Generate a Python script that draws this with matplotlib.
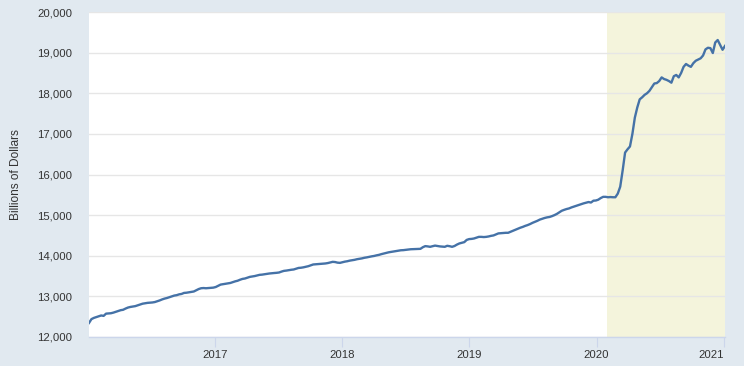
import matplotlib
matplotlib.use('Agg')
import matplotlib.pyplot as plt
import pandas as pd

# weekly series, starting 2016-01-04
start_date = '2016-01-04'
m2_2016 = [12345, 12440, 12470, 12490, 12510, 12530, 12520, 12575, 12580, 12585, 12600, 12620, 12640,
           12660, 12670, 12700, 12725, 12740, 12750, 12760, 12780, 12800, 12820, 12830, 12840, 12845,
           12850, 12860, 12880, 12900, 12925, 12945, 12960, 12980, 13000, 13020, 13030, 13050, 13060,
           13085, 13090, 13100, 13110, 13120, 13150, 13180, 13200, 13205, 13200, 13205, 13210, 13215]
m2_2017 = [13230, 13260, 13290, 13300, 13310, 13320, 13330, 13350, 13370, 13385, 13410, 13430, 13440,
           13460, 13480, 13490, 13500, 13515, 13530, 13535, 13545, 13555, 13563, 13570, 13575, 13580,
           13588, 13610, 13628, 13635, 13645, 13655, 13662, 13680, 13700, 13705, 13715, 13730, 13743,
           13765, 13785, 13790, 13795, 13800, 13805, 13810, 13820, 13835, 13850, 13845, 13830, 13825]
m2_2018 = [13840, 13855, 13865, 13880, 13890, 13900, 13915, 13925, 13935, 13950, 13960, 13973, 13985,
           13995, 14010, 14022, 14040, 14055, 14070, 14085, 14096, 14105, 14115, 14125, 14135, 14138,
           14145, 14150, 14160, 14163, 14165, 14168, 14170, 14210, 14237, 14230, 14220, 14235, 14250,
           14240, 14230, 14225, 14220, 14245, 14235, 14220, 14240, 14275, 14303, 14320, 14335, 14390]
m2_2019 = [14410, 14415, 14425, 14445, 14465, 14465, 14460, 14465, 14475, 14490, 14500, 14525, 14550,
           14555, 14560, 14565, 14565, 14590, 14615, 14640, 14665, 14690, 14710, 14735, 14755, 14780,
           14810, 14835, 14860, 14890, 14910, 14930, 14945, 14955, 14975, 15000, 15030, 15070, 15107,
           15130, 15150, 15165, 15190, 15210, 15230, 15250, 15272, 15290, 15305, 15322, 15310, 15355]
m2_2020 = [15360, 15380, 15420, 15450, 15450, 15440, 15445, 15440, 15440, 15530, 15700, 16100, 16540,
           16620, 16690, 17000, 17400, 17650, 17850, 17900, 17960, 18000, 18060, 18150, 18240, 18250,
           18300, 18390, 18350, 18330, 18300, 18260, 18420, 18450, 18390, 18500, 18650, 18720, 18680,
           18650, 18740, 18800, 18830, 18860, 18930, 19080, 19120, 19110, 18990, 19250, 19310, 19190,
           19070, 19165]

recession_start = '2020-02-01'
y_ticks = [12000, 13000, 14000, 15000, 16000, 17000, 18000, 19000, 20000]
x_ticks = ['2017-01-01', '2018-01-01', '2019-01-01', '2020-01-01', '2021-01-01']
x_labels = ['2017', '2018', '2019', '2020', '2021']

values = m2_2016 + m2_2017 + m2_2018 + m2_2019 + m2_2020
dates = pd.date_range(start_date, periods=len(values), freq='7D')

plt.rcParams['font.family'] = ['Liberation Sans', 'DejaVu Sans']

BG = '#e1e9f0'
fig = plt.figure(figsize=(7.44, 3.66), dpi=100, facecolor=BG)
ax = fig.add_axes([89/744, 1 - 337/366, (725 - 89)/744, (337 - 12)/366])
ax.set_facecolor('white')

# recession shading
ax.axvspan(pd.Timestamp(recession_start), dates[-1], color='#f4f4dc', lw=0, zorder=0)
ax.plot(dates, values, color='#4572a7', lw=1.7, zorder=3)

ax.set_xlim(dates[0], dates[-1])
ax.set_ylim(12000, 20000)
ax.set_yticks(y_ticks)
ax.set_yticklabels([f'{v:,}' for v in y_ticks])
ax.set_xticks([pd.Timestamp(d) for d in x_ticks])
ax.set_xticklabels(x_labels)
# last label kept inside the plot edge
ax.get_xticklabels()[-1].set_horizontalalignment('right')

ax.yaxis.grid(True, color='#e6e6e6', lw=1, zorder=1)
ax.set_axisbelow(True)
for s in ['top', 'right', 'left']:
    ax.spines[s].set_visible(False)
ax.spines['bottom'].set_color('#ccd6eb')
ax.spines['bottom'].set_linewidth(1)

ax.tick_params(axis='y', length=0, pad=12, labelsize=8.2, labelcolor='#333333')
ax.tick_params(axis='x', length=7, width=0.8, color='#ccd6eb', pad=2,
               labelsize=8.2, labelcolor='#333333')

fig.text(16/744, 1 - 175/366, 'Billions of Dollars', rotation=90, ha='center', va='center',
         fontsize=8.6, color='#333333')

fig.savefig('out.png', dpi=100, facecolor=BG)
